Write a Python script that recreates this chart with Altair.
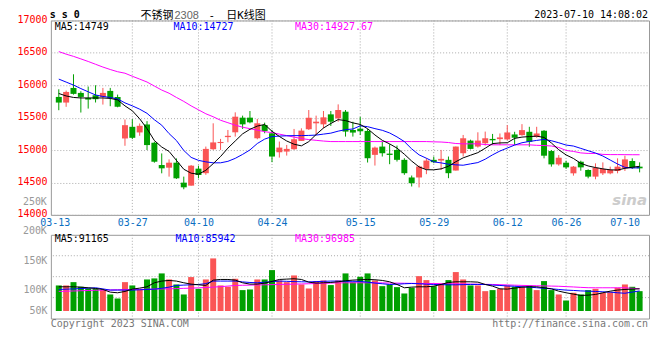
import altair as alt
import pandas as pd

MONO = "DejaVu Sans Mono"
CJK = "DejaVu Sans Mono, Noto Sans CJK SC"
RED = "#fa5555"
GREEN = "#00a000"
BLUE_LBL = "#0a6fc2"
GRAY = "#999999"

dates = ["03-13","03-14","03-15","03-16","03-17","03-20","03-21","03-22","03-23","03-24",
         "03-27","03-28","03-29","03-30","03-31","04-03","04-04","04-06","04-07","04-10",
         "04-11","04-12","04-13","04-14","04-17","04-18","04-19","04-20","04-21","04-24",
         "04-25","04-26","04-27","04-28","05-04","05-05","05-08","05-09","05-10","05-11",
         "05-12","05-15","05-16","05-17","05-18","05-19","05-22","05-23","05-24","05-25",
         "05-26","05-29","05-30","05-31","06-01","06-02","06-05","06-06","06-07","06-08",
         "06-09","06-12","06-13","06-14","06-15","06-16","06-19","06-20","06-21","06-26",
         "06-27","06-28","06-29","06-30","07-03","07-04","07-05","07-06","07-07","07-10"]
tick_dates = ["03-13","03-27","04-10","04-24","05-15","05-29","06-12","06-26","07-10"]

opens = [15820,15733,15959,15882,15805,15846,15820,15913,15820,15179,
         15359,15272,15395,15113,14769,14728,14805,14497,14451,14713,
         14643,15013,15108,15200,15274,15500,15500,15182,15387,15259,
         14966,14977,15013,15141,15320,15413,15397,15551,15490,15592,
         15310,15330,15295,14926,15054,14945,15002,14849,14577,14577,
         14710,14849,14838,14849,14684,14951,15146,15054,15105,15172,
         15169,15164,15241,15231,15282,15205,15298,14985,14779,14805,
         14641,14820,14692,14590,14641,14641,14677,14718,14831,14744]
closes = [15733,15897,15867,15820,15779,15785,15882,15805,15667,15384,
          15189,15374,15077,14820,14718,14805,14564,14425,14759,14615,
          15018,15118,15125,15220,15515,15397,15428,15413,15295,14900,
          15038,15018,15167,15300,15500,15438,15505,15438,15618,15285,
          15270,15290,14874,15038,14951,14925,14849,14643,14489,14746,
          14838,14813,14864,14643,15054,15182,15018,15146,15182,15151,
          15195,15272,15190,15308,15128,15256,14913,14779,14882,14733,
          14744,14733,14590,14728,14708,14692,14744,14856,14728,14718]
highs = [15938,15918,16169,15908,15980,16000,15959,15959,15856,15472,
         15477,15410,15446,15128,14948,14856,14871,14590,14769,14759,
         15054,15413,15172,15310,15582,15531,15603,15479,15423,15310,
         15131,15079,15326,15336,15618,15531,15603,15603,15705,15618,
         15437,15513,15326,15054,15131,15090,15069,14874,14607,14761,
         14874,14900,15002,14900,15054,15233,15160,15274,15285,15249,
         15256,15385,15282,15400,15359,15359,15308,15000,14923,14836,
         14754,14836,14703,14795,14810,14744,14872,14913,14872,14810]
lows = [15615,15667,15856,15579,15640,15734,15702,15677,15660,15066,
        15169,15220,15000,14805,14641,14590,14554,14395,14451,14564,
        14618,15002,15002,15120,15208,15326,15413,15167,15259,14813,
        14884,14915,15002,15141,15310,15233,15336,15372,15438,15208,
        15208,15233,14808,14761,14900,14782,14823,14618,14438,14423,
        14628,14797,14694,14566,14684,14900,15010,15038,15069,15079,
        15077,15154,15077,15221,15051,15190,14872,14744,14759,14708,
        14605,14682,14564,14549,14615,14626,14641,14677,14708,14656]

ma5 = [15873,15835,15812,15804,15804,15804,15804,15797,15774,15682,
       15606,15483,15330,15147,15047,14979,14841,14704,14643,14627,
       14688,14790,14900,15030,15140,15250,15320,15370,15395,15290,
       15210,15140,15090,15065,15130,15240,15340,15410,15470,15455,
       15420,15395,15330,15233,15150,15095,15030,14936,14830,14740,
       14697,14695,14710,14750,14820,14880,14920,14960,15028,15100,
       15110,15113,15180,15200,15208,15215,15195,15110,15005,14925,
       14870,14795,14755,14730,14710,14695,14692,14718,14735,14749]
ma10 = [16095,16049,16003,15949,15899,15850,15827,15812,15789,15728,
        15682,15631,15567,15468,15384,15254,15147,14994,14887,14841,
        14818,14803,14803,14826,14872,14933,15002,15101,15169,15208,
        15216,15220,15223,15223,15226,15231,15246,15261,15292,15315,
        15325,15374,15361,15331,15305,15264,15203,15131,15018,14926,
        14874,14818,14802,14782,14772,14766,14787,14807,14859,14926,
        14985,15031,15077,15113,15133,15149,15164,15144,15113,15077,
        15062,15026,14990,14954,14908,14846,14785,14733,14723,14727]
ma30 = [16520,16480,16446,16407,16367,16324,16281,16243,16209,16186,
        16139,16095,16050,15988,15926,15877,15812,15751,15682,15621,
        15560,15514,15460,15422,15384,15353,15330,15307,15284,15269,
        15246,15223,15200,15177,15162,15150,15139,15131,15131,15131,
        15131,15131,15131,15131,15131,15131,15131,15131,15131,15131,
        15131,15127,15124,15116,15101,15096,15096,15096,15085,15081,
        15081,15081,15081,15081,15081,15073,15070,15063,15040,14994,
        14979,14956,14948,14948,14933,14930,14930,14929,14928,14927.67]

# volume in thousands of lots
volumes = [106.9,106.9,112.6,104.6,101.7,101.7,98.9,91.4,84.5,112.6,
           106.9,100.0,117.2,119.0,127.6,117.2,108.6,91.4,121.3,101.1,
           117.2,153.4,106.9,104.6,118.4,98.9,100.0,117.2,117.2,133.3,
           115.5,112.6,124.1,108.6,101.7,114.4,115.5,107.5,115.5,127.6,
           112.6,121.8,127.6,115.5,105.7,108.6,104.0,93.1,102.9,122.9,
           116.1,105.7,109.7,116.1,129.9,117.2,106.9,106.9,97.1,98.9,
           101.1,106.9,104.6,104.6,106.9,98.9,114.4,98.9,91.4,81.0,
           94.3,91.4,98.9,101.1,94.3,95.4,102.9,108.6,104.6,97.1]
vma5 = [104.6,104.6,104.6,104.0,102.9,101.7,100.0,95.4,94.3,96.6,
        100.6,102.3,104.6,111.5,114.4,115.5,114.4,111.5,109.2,108.0,
        106.9,116.1,117.2,117.2,116.1,111.5,109.2,109.2,110.9,113.8,
        117.2,117.8,118.4,117.2,112.6,110.9,111.5,112.0,113.2,115.0,
        116.1,116.7,117.2,116.7,115.5,113.2,108.6,102.9,104.0,104.6,
        104.6,105.7,108.6,112.0,113.2,113.2,113.2,112.6,108.6,105.7,
        101.1,100.6,102.3,104.0,104.6,104.6,102.9,101.1,97.1,94.3,
        92.0,89.7,90.2,91.4,94.3,97.1,98.9,100.0,100.6,101.1]
vma10 = [100.0,100.5,101.0,101.5,102.3,102.9,101.0,98.9,98.9,98.9,
         98.9,99.4,100.0,100.5,102.0,104.0,106.9,107.5,108.0,108.6,
         110.0,114.4,114.4,114.4,114.4,113.0,112.0,111.5,112.5,113.5,
         114.4,114.0,113.5,113.2,113.0,113.5,114.0,114.4,114.4,114.0,
         114.0,113.8,112.5,111.0,109.8,108.6,109.0,109.8,110.3,109.8,
         109.0,108.6,108.3,108.0,108.0,108.3,108.6,108.6,108.6,107.5,
         106.9,106.0,105.5,104.6,104.0,103.0,102.0,101.1,100.0,98.9,
         98.3,97.5,97.1,96.6,96.0,95.4,94.3,93.5,95.5,97.5]
vma30 = [96.6,97.0,97.4,97.8,98.2,98.6,98.9,99.2,99.5,99.7,
         100.0,100.2,100.4,100.7,100.9,101.1,101.5,101.9,102.3,102.8,
         103.4,104.0,104.8,105.8,106.9,107.2,107.5,107.8,108.0,108.3,
         108.6,108.9,109.2,109.5,109.8,110.2,110.6,111.0,111.3,111.5,
         111.5,111.5,111.5,111.5,111.3,111.1,110.9,110.7,110.5,110.3,
         110.3,110.2,110.0,109.9,109.8,109.5,109.3,109.0,108.8,108.6,
         108.2,107.8,107.4,107.0,106.7,106.4,106.1,105.8,105.5,104.9,
         104.3,103.6,103.0,102.9,102.9,102.9,102.9,102.9,102.0,101.1]

price_ticks = [14000, 14500, 15000, 15500, 16000, 16500, 17000]
vol_ticks = [50, 100, 150]
vol_overflow_ticks = [200, 250]
vol_grid = [86, 122, 158]
VOL_BASE = 63
vol_ma_text = ["MA5:91165", "MA10:85942", "MA30:96985"]

n = len(dates)
idx = list(range(n))
df = pd.DataFrame({"i": idx, "open": opens, "close": closes, "high": highs,
                   "low": lows, "vol": volumes})
df["dir"] = ["up" if c >= o else "down" for o, c in zip(opens, closes)]
ma_df = pd.DataFrame({"i": idx, "ma5": ma5, "ma10": ma10, "ma30": ma30,
                      "vma5": vma5, "vma10": vma10, "vma30": vma30})
tick_idx = [dates.index(d) for d in tick_dates]
grid_df = pd.DataFrame({"i": tick_idx[1:-1]})

W, HP, HV = 600, 195, 84
xs = alt.Scale(domain=[-0.4, n - 0.4], nice=False, zero=False)
ys = alt.Scale(domain=[14000, 17000], nice=False, zero=False)
vys = alt.Scale(domain=[50, 194], nice=False, zero=False)

label_expr = "[" + ",".join("'%s'" % d for d in dates) + "][datum.value]"
x_axis = alt.Axis(values=tick_idx, labelExpr=label_expr, title=None, grid=False,
                  ticks=False, domain=False, labelFont=MONO, labelFontSize=10,
                  labelColor=BLUE_LBL, labelPadding=3, labelFlush=False,
                  labelOverlap=False,
                  labelAlign={"condition": {"test": "datum.value == %d" % (n - 1),
                                            "value": "right"}, "value": "center"},
                  labelOffset={"condition": {"test": "datum.value == 0", "value": -4},
                               "value": 0})
y_axis = alt.Axis(values=price_ticks, title=None, ticks=False, tickSize=0,
                  domain=False, grid=True, gridColor="#aaaaaa", gridDash=[1, 2],
                  labelFont=MONO, labelFontSize=10, labelColor="#ff0000",
                  labelPadding=4, labelOverlap=False, labelOffset=-1, format="d")
vy_axis = alt.Axis(values=vol_ticks, title=None, ticks=False, tickSize=0,
                   domain=False, grid=False, labelFont=MONO, labelFontSize=10,
                   labelColor=GRAY, labelPadding=4, labelOverlap=False,
                   labelExpr="datum.value + 'K'",
                   labelOffset={"condition": {"test": "datum.value == 50", "value": -8},
                                "value": 0})

X = alt.X("i:Q", scale=xs, axis=x_axis)
XV = alt.X("i:Q", scale=xs, axis=None)
colr = alt.Color("dir:N", scale=alt.Scale(domain=["up", "down"], range=[RED, GREEN]),
                 legend=None)


def txt(text, x, y, color="black", size=10, font=MONO, align="left", weight="normal",
        style="normal", baseline="middle"):
    return alt.Chart(pd.DataFrame({"t": [text]})).mark_text(
        align=align, baseline=baseline, font=font, fontSize=size, color=color,
        fontWeight=weight, fontStyle=style
    ).encode(x=alt.value(x), y=alt.value(y), text="t:N")


# ---------- price panel ----------
vgrid = alt.Chart(grid_df).mark_rule(color="#aaaaaa", strokeDash=[1, 2]).encode(x=X)
wick = alt.Chart(df).mark_rule(strokeWidth=1).encode(
    x=X, y=alt.Y("low:Q", scale=ys, axis=y_axis), y2="high:Q", color=colr)
body = alt.Chart(df).mark_bar(size=6).encode(
    x=X, y=alt.Y("open:Q", scale=ys, axis=y_axis), y2="close:Q", color=colr)
l30 = alt.Chart(ma_df).mark_line(color="#ff00ff", strokeWidth=1).encode(
    x=X, y=alt.Y("ma30:Q", scale=ys, axis=y_axis))
l10 = alt.Chart(ma_df).mark_line(color="#0000ff", strokeWidth=1).encode(
    x=X, y=alt.Y("ma10:Q", scale=ys, axis=y_axis))
l5 = alt.Chart(ma_df).mark_line(color="#000000", strokeWidth=1).encode(
    x=X, y=alt.Y("ma5:Q", scale=ys, axis=y_axis))

fmt = lambda v: ("%.2f" % v) if v != int(v) else "%d" % v
hy = -10  # header row (top baseline)
may = 7   # MA legend row
price = alt.layer(
    vgrid, wick, body, l30, l10, l5,
    txt("MA5:" + fmt(ma5[-1]), 4, may, "#000000"),
    txt("MA10:" + fmt(ma10[-1]), 123, may, "#0000ff"),
    txt("MA30:" + fmt(ma30[-1]), 245, may, "#ff00ff"),
    txt("s s 0", -1, hy, "#000000", size=10, weight="bold", baseline="top"),
    txt("不锈钢", 90, hy, "#000000", size=11, font=CJK, baseline="top"),
    txt("2308", 124, hy, "#666666", size=11, font="Liberation Sans", baseline="top"),
    txt("-", 158, hy, "#000000", size=11, font=MONO, baseline="top"),
    txt("日K线图", 176, hy, "#000000", size=11, font=CJK, baseline="top"),
    txt("2023-07-10 14:08:02", 599, hy, "#000000", align="right", baseline="top"),
    txt("sina", 598, 180, "#cccccc", size=15, font="DejaVu Sans", align="right",
        weight="bold", style="italic"),
).properties(width=W, height=HP)

# ---------- volume panel ----------
vgrid2 = alt.Chart(grid_df).mark_rule(color="#aaaaaa", strokeDash=[1, 2]).encode(x=XV)
hgrid2 = alt.Chart(pd.DataFrame({"v": vol_grid})).mark_rule(
    color="#aaaaaa", strokeDash=[1, 2]).encode(y=alt.Y("v:Q", scale=vys, axis=vy_axis))
vbars = alt.Chart(df).mark_bar(size=6).encode(
    x=XV, y=alt.Y("vol:Q", scale=vys, axis=vy_axis), y2=alt.datum(VOL_BASE), color=colr)
v30 = alt.Chart(ma_df).mark_line(color="#ff00ff", strokeWidth=1).encode(
    x=XV, y=alt.Y("vma30:Q", scale=vys, axis=vy_axis))
v10 = alt.Chart(ma_df).mark_line(color="#0000ff", strokeWidth=1).encode(
    x=XV, y=alt.Y("vma10:Q", scale=vys, axis=vy_axis))
v5 = alt.Chart(ma_df).mark_line(color="#000000", strokeWidth=1).encode(
    x=XV, y=alt.Y("vma5:Q", scale=vys, axis=vy_axis))
ov_df = pd.DataFrame({"v": vol_overflow_ticks})
ov_df["t"] = [str(v) + "K" for v in vol_overflow_ticks]
overflow = alt.Chart(ov_df).mark_text(
    align="right", baseline="middle", font=MONO, fontSize=10, color=GRAY
).encode(x=alt.value(-4), y=alt.Y("v:Q", scale=vys, axis=vy_axis), text="t:N")

vol = alt.layer(
    hgrid2, vgrid2, vbars, v30, v10, v5, overflow,
    txt(vol_ma_text[0], 4, 4.5, "#000000"),
    txt(vol_ma_text[1], 125, 4.5, "#0000ff"),
    txt(vol_ma_text[2], 245, 4.5, "#ff00ff"),
    txt("Copyright 2023 SINA.COM", 0, 89.5, "#777777"),
    txt("http://finance.sina.com.cn", 599, 89.5, "#777777", align="right"),
).properties(width=W, height=HV)

chart = alt.vconcat(price, vol, spacing=20, bounds="flush").properties(
    padding={"left": 8, "top": 1, "right": 2, "bottom": 2},
    background="white",
).configure_view(stroke="#999999", strokeWidth=1)

chart.save("out.html", embed_options={"renderer": "svg", "actions": False})
